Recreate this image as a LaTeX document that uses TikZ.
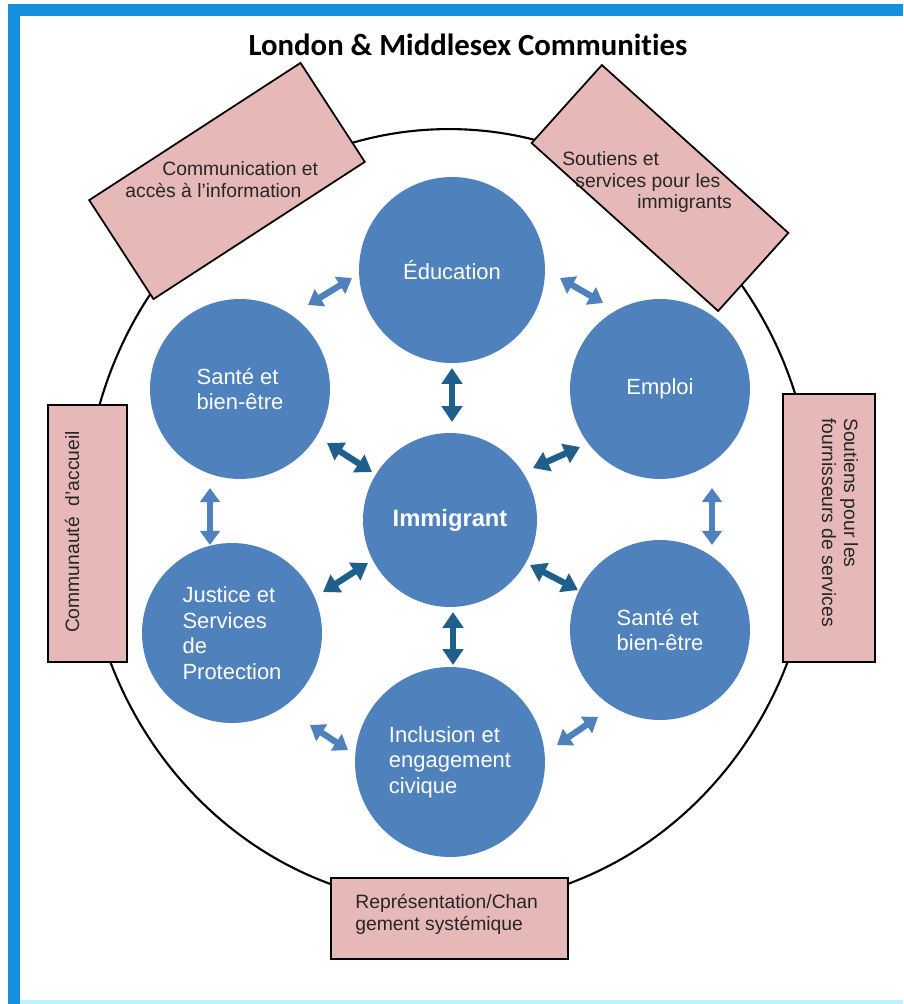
\documentclass[tikz,border=0pt]{standalone}
\usepackage{fontspec}
\setmainfont{Liberation Sans}
\newfontfamily\titlefont[Ligatures=NoCommon]{Carlito}
\usetikzlibrary{arrows.meta,calc}

\definecolor{circblue}{HTML}{4F81BD}
\definecolor{darkarrow}{HTML}{1F5F8B}
\definecolor{boxpink}{HTML}{E6B9B8}
\definecolor{framebl}{HTML}{168FDC}
\definecolor{framecy}{HTML}{BDF2FF}

\begin{document}
\begin{tikzpicture}[x=0.02cm,y=-0.02cm,
	pole/.style={circle,fill=circblue,text=white,align=left,inner sep=0pt,minimum size=3.6cm,font=\fontsize{12.5}{14.5}\selectfont},
	pinkbox/.style={draw=black,fill=boxpink,line width=1.4pt,inner sep=0pt},
	boxtext/.style={font=\fontsize{11}{12.5}\selectfont,text=black!85,align=left,inner sep=0pt},
	ringarrow/.style={circblue,line width=3.6pt,{Triangle[width=11pt,length=8pt]}-{Triangle[width=11pt,length=8pt]}},
	corearrow/.style={darkarrow,line width=3.6pt,{Triangle[width=11.5pt,length=9pt]}-{Triangle[width=11.5pt,length=9pt]}}]

\useasboundingbox (0,0) rectangle (903,1004);

% cadre
\fill[framebl] (8,4) rectangle (903,16);
\fill[framebl] (8,4) rectangle (20,1004);
\fill[framecy] (20,1000) rectangle (903,1004);

\node[font=\titlefont\bfseries\fontsize{17.5}{20}\selectfont] (titre) at (468,45) {London \& Middlesex Communities};

% grand cercle
\draw[line width=1.2pt] (449,517) ellipse [x radius=7.3cm, y radius=7.76cm];

% boites autour du cercle
\node[pinkbox,line width=1pt,rotate=33,minimum width=5.04cm,minimum height=2.36cm] (comm) at (227,181) {};
\node[pinkbox,line width=1pt,rotate=-42,minimum width=5.02cm,minimum height=2.1cm] (soutImm) at (660,188) {};
\node[pinkbox,minimum width=1.58cm,minimum height=5.14cm] (accueil) at (87.5,533.5) {};
\node[pinkbox,minimum width=1.84cm,minimum height=5.36cm] (fourn) at (829,528) {};
\node[pinkbox,minimum width=4.74cm,minimum height=1.62cm] (repres) at (449.5,918.5) {};

\node[boxtext,anchor=west] (commT) at (125,180) {\hspace*{0.74cm}Communication et\\accès à l'information};
\node[boxtext,anchor=west] (soutImmT) at (562,182) {Soutiens et\\\hspace*{0.26cm}services pour les\\\hspace*{1.5cm}immigrants};
\node[boxtext,rotate=90] (accueilT) at (72,532) {Communauté\ \ d'accueil};
\node[boxtext,rotate=-90,anchor=west] (fournT) at (840,418) {Soutiens pour les\\fournisseurs de services};
\node[boxtext,anchor=west] (represT) at (355,914) {Représentation/Chan\\gement systémique};

% cercles
\node[pole,minimum size=3.72cm] (edu) at (452,270) {Éducation};
\node[pole] (santeA) at (240,389) {Santé et\\bien-être};
\node[pole] (emploi) at (660,389) {Emploi};
\node[pole,minimum size=3.48cm,font=\bfseries\fontsize{13.5}{16}\selectfont] (immi) at (450,520) {Immigrant};
\node[pole] (justice) at (232,633) {Justice et\\Services\\de\\Protection};
\node[pole] (santeB) at (660,630) {Santé et\\bien-être};
\node[pole,minimum size=3.8cm] (inclu) at (450,762) {Inclusion et\\engagement\\civique};

% fleches de l'anneau
\coordinate(r1a) at ($(santeA)+(68,-84)$);
\coordinate(r1b) at ($(edu)+(-100,8)$);
\coordinate(r2a) at ($(edu)+(108,8)$);
\coordinate(r2b) at ($(emploi)+(-57,-86)$);
\coordinate(r3a) at ($(emploi)+(52,99)$);
\coordinate(r3b) at ($(santeB)+(52,-85)$);
\coordinate(r4a) at ($(santeB)+(-62,87)$);
\coordinate(r4b) at ($(inclu)+(107,-17)$);
\coordinate(r5a) at ($(inclu)+(-102,-12)$);
\coordinate(r5b) at ($(justice)+(78,92)$);
\coordinate(r6a) at ($(justice)+(-22,-88)$);
\coordinate(r6b) at ($(santeA)+(-30,99)$);

\draw[ringarrow] (r1a)--(r1b);
\draw[ringarrow] (r2a)--(r2b);
\draw[ringarrow] (r3a)--(r3b);
\draw[ringarrow] (r4a)--(r4b);
\draw[ringarrow] (r5a)--(r5b);
\draw[ringarrow] (r6a)--(r6b);

% fleches vers Immigrant
\coordinate(c1a) at ($(edu)+(0,98)$);
\coordinate(c1b) at ($(immi)+(2,-98)$);
\coordinate(c2a) at ($(santeA)+(87,54)$);
\coordinate(c2b) at ($(immi)+(-78,-48)$);
\coordinate(c3a) at ($(emploi)+(-80,58)$);
\coordinate(c3b) at ($(immi)+(83,-52)$);
\coordinate(c4a) at ($(immi)+(-82,43)$);
\coordinate(c4b) at ($(justice)+(91,-41)$);
\coordinate(c5a) at ($(immi)+(80,45)$);
\coordinate(c5b) at ($(santeB)+(-82,-40)$);
\coordinate(c6a) at ($(immi)+(3,92)$);
\coordinate(c6b) at ($(inclu)+(3,-97)$);

\draw[corearrow] (c1a)--(c1b);
\draw[corearrow] (c2a)--(c2b);
\draw[corearrow] (c3a)--(c3b);
\draw[corearrow] (c4a)--(c4b);
\draw[corearrow] (c5a)--(c5b);
\draw[corearrow] (c6a)--(c6b);

\end{tikzpicture}
\end{document}
